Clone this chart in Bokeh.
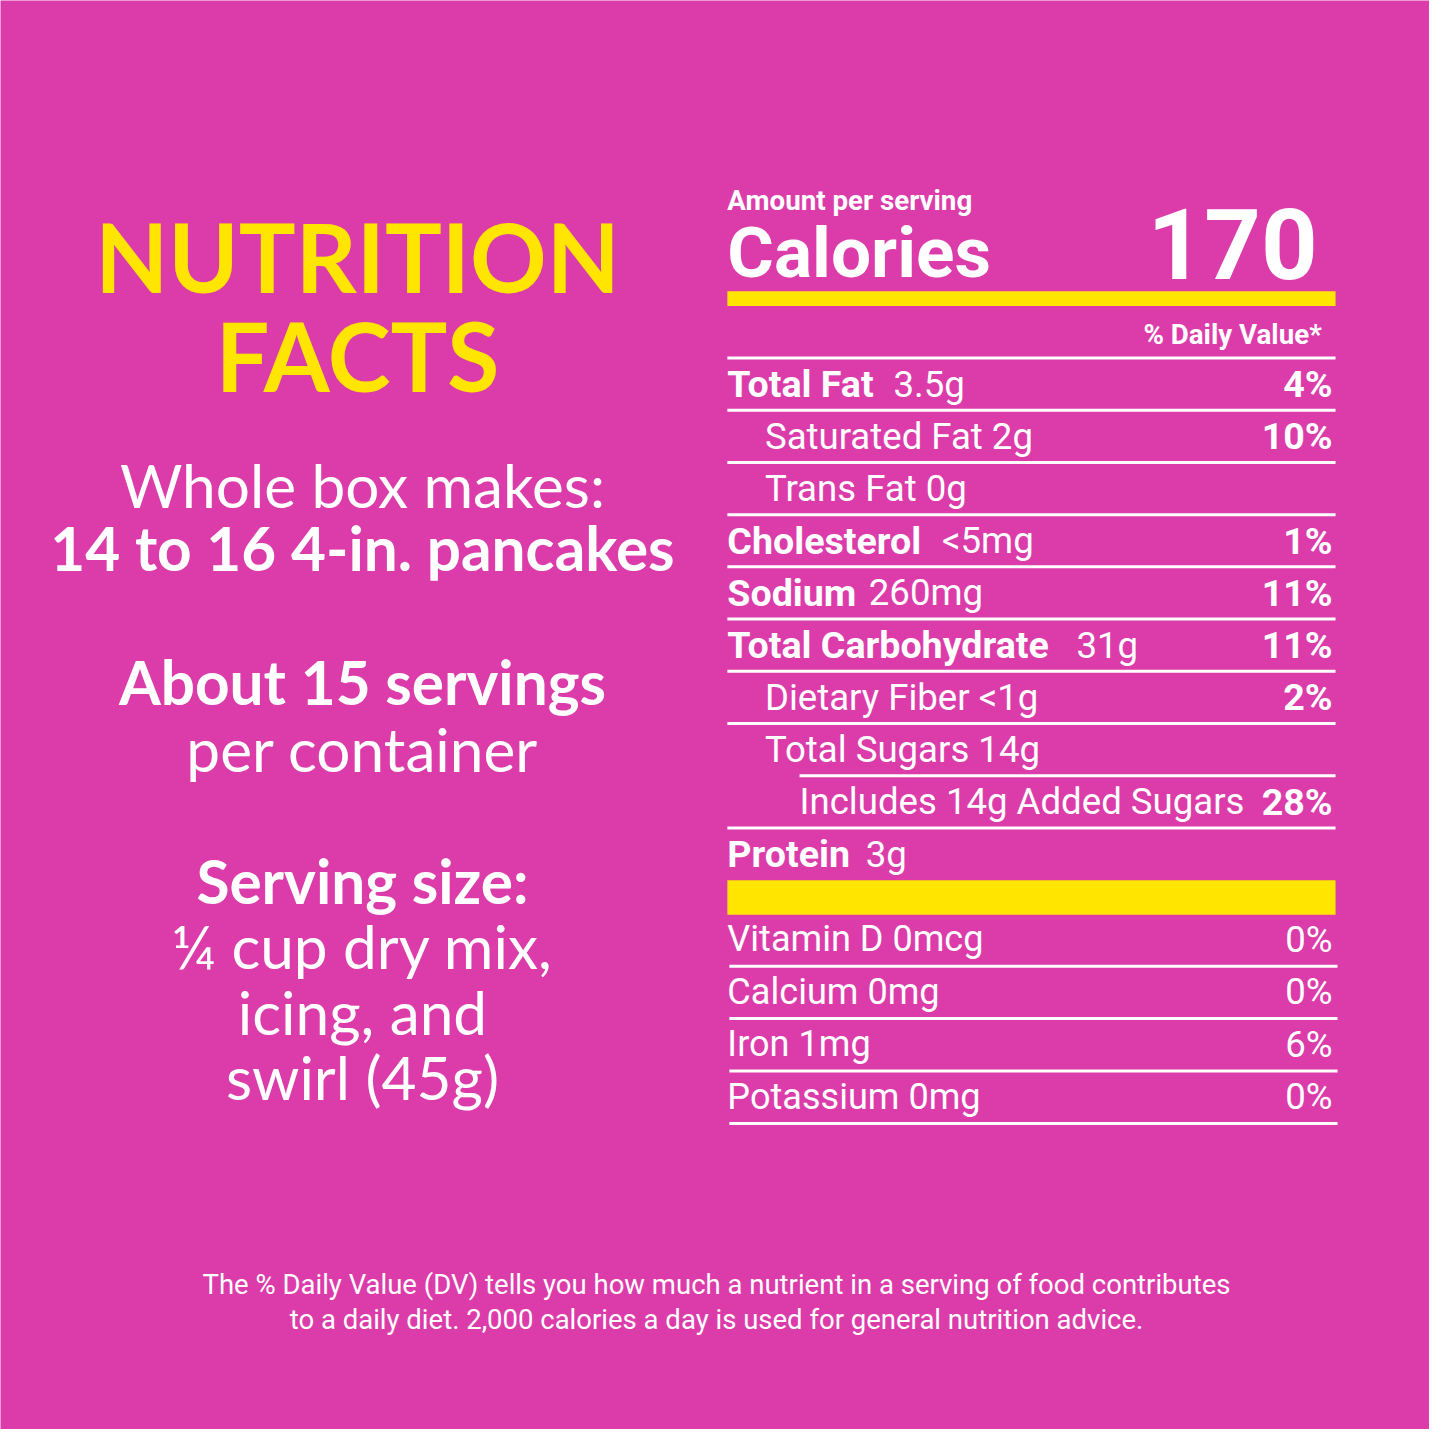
from bokeh.plotting import figure
from bokeh.models import Range1d
from bokeh.core.properties import value
from bokeh.embed import file_html
from bokeh.resources import INLINE

# ---------------- data ----------------
title_lines = ["NUTRITION", "FACTS"]
info_lines = ["Whole box makes:", "14 to 16 4-in. pancakes", "About 15 servings",
              "per container", "Serving size:", "\u00bc cup dry mix,", "icing, and", "swirl (45g)"]
info_bold = [False, True, True, False, True, False, False, False]

calories_label = "Calories"
calories_value = "170"

nutrients = ["Total Fat", "Saturated Fat", "Trans Fat", "Cholesterol", "Sodium",
             "Total Carbohydrate", "Dietary Fiber", "Total Sugars",
             "Includes 14g Added Sugars", "Protein"]
amounts = ["3.5g", "2g", "0g", "<5mg", "260mg", "31g", "<1g", "14g", "", "3g"]
daily_values = ["4%", "10%", "", "1%", "11%", "11%", "2%", "", "28%", ""]
levels = [0, 1, 1, 0, 0, 0, 1, 1, 2, 0]

vitamins = ["Vitamin D", "Calcium", "Iron", "Potassium"]
vitamin_amounts = ["0mcg", "0mg", "1mg", "0mg"]
vitamin_dv = ["0%", "0%", "6%", "0%"]

footnote = ["The % Daily Value (DV) tells you how much a nutrient in a serving of food contributes",
            "to a daily diet. 2,000 calories a day is used for general nutrition advice."]

# ---------------- style / layout ----------------
BG = "#dc3caa"
YEL = "#ffe500"
WH = "#ffffff"
FN = "Roboto"
FL = "Lato"
W = 1429
S = W / 1445.0

def fs(px):
    return value("%.1fpx" % (px * S))

def txt(x, y, t, font, size, bold=False, color=WH, align="left"):
    p.text(x=[x], y=[y], text=[t], text_font=value(font), text_font_size=fs(size),
           text_font_style="bold" if bold else "normal", text_color=color,
           text_align=align, text_baseline="middle")

p = figure(width=W, height=W, x_range=Range1d(0, 1445), y_range=Range1d(1445, 0),
           output_backend="svg", toolbar_location=None, min_border=0,
           background_fill_color=BG, border_fill_color=BG, outline_line_color=None)
p.axis.visible = False
p.grid.visible = False

# ---- left column ----
title_y = [258, 358]
for i, t in enumerate(title_lines):
    txt(361, title_y[i], t, FL, 96, bold=True, color=YEL, align="center")
info_y = [489, 553, 689, 756, 890, 956, 1022, 1088]
for i, t in enumerate(info_lines):
    txt(366, info_y[i], t, FL, 61, bold=info_bold[i], align="center")

# ---- right panel ----
XL, XR, XPCT = 735, 1350, 1347
txt(XL, 202, "Amount per serving", FN, 28, bold=True)
txt(XL, 255, calories_label, FN, 72, bold=True)
txt(1332, 246, calories_value, FN, 100, bold=True, align="right")
p.quad(left=[XL], right=[XR], top=[294], bottom=[309], fill_color=YEL, line_color=None)
txt(1336, 338, "% Daily Value*", FN, 28, bold=True, align="right")

Y0, STEP = 361.5, 52.8
indent = {0: 735, 1: 773, 2: 808}
amount_x = {"Total Fat": 903, "Cholesterol": 952, "Sodium": 878,
            "Total Carbohydrate": 1088, "Protein": 875}

line_x0, line_y = [], []
for i, name in enumerate(nutrients):
    top = Y0 + i * STEP
    mid = top + STEP / 2
    lx = indent[levels[i]]
    line_x0.append(lx if levels[i] == 2 else XL)
    line_y.append(top)
    if levels[i] == 0:
        txt(lx, mid, name, FN, 38, bold=True)
        txt(amount_x[name], mid, amounts[i], FN, 37)
    else:
        label = name + (" " + amounts[i] if amounts[i] else "")
        txt(lx, mid, label, FN, 37)
    if daily_values[i]:
        txt(XPCT, mid, daily_values[i], FN, 38, bold=True, align="right")

p.segment(x0=line_x0, x1=[XR] * len(line_x0), y0=line_y, y1=line_y,
          line_color=WH, line_width=3)

bar2_top = Y0 + len(nutrients) * STEP
p.quad(left=[XL], right=[XR], top=[bar2_top], bottom=[bar2_top + 35],
       fill_color=YEL, line_color=None)

VSTEP = 53.0
v_lines = []
for j, v in enumerate(vitamins):
    below = bar2_top + 35 + 52 + j * VSTEP
    mid = below - 27
    txt(XL, mid, v + " " + vitamin_amounts[j], FN, 36.5)
    txt(XPCT, mid, vitamin_dv[j], FN, 37, align="right")
    v_lines.append(below)
p.segment(x0=[737] * 4, x1=[1352] * 4, y0=v_lines, y1=v_lines, line_color=WH, line_width=3)

# ---- footnote ----
foot_y = [1298, 1334]
for k, t in enumerate(footnote):
    txt(724, foot_y[k], t, FN, 27.8, align="center")

open("out.html", "w").write(file_html(p, INLINE))
